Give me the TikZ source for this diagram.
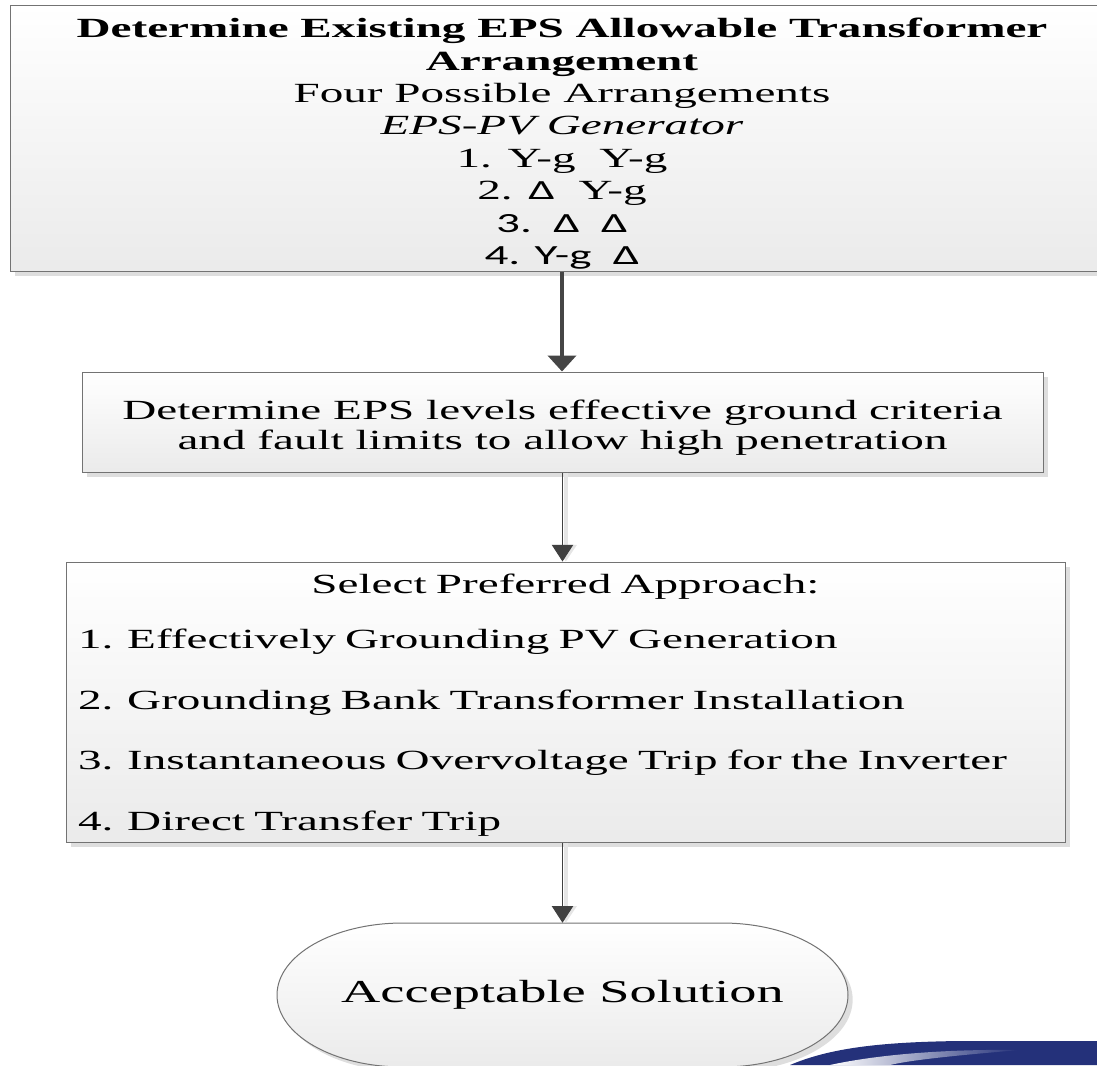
\documentclass[tikz,border=0pt]{standalone}
\usepackage{fontspec}
\setmainfont{Liberation Serif}[FakeStretch=1.7]
\newfontfamily\calfont{Carlito}[FakeStretch=1.7]
\usetikzlibrary{arrows.meta,shadows}
\definecolor{swooshblue}{HTML}{24317A}

\begin{document}
\begin{tikzpicture}[x=0.75pt, y=-0.75pt, >={Triangle[width=16pt, length=12.5pt]},
	box/.style={draw=black!55, line width=0.75pt, top color=white, bottom color=black!8, drop shadow={shadow xshift=3.5pt, shadow yshift=-3.5pt, fill=black!13, opacity=1}, align=center, inner sep=0pt},
	txt/.style={font=\fontsize{20.8}{24.3}\selectfont},
	link/.style={->, draw=black!75, line width=0.75pt},
	linkshade/.style={->, draw=black!10, line width=2.5pt}]
	\useasboundingbox (0,0) rectangle (1097,1065);
	\clip (0,0) rectangle (1097,1065);
	\node[box, txt, minimum width=828pt, minimum height=199.5pt] (arrange) at (562,138) {\rule{0pt}{23.3pt}\textbf{Determine Existing EPS Allowable Transformer}\\\textbf{Arrangement}\\Four Possible Arrangements\\\textit{EPS-PV Generator}\\1. Y-g\ \ Y-g\\2. {\calfont Δ}\ \ Y-g\\{\calfont 3.\ \ Δ\ \ Δ}\\{\calfont 4. Y-g\ \ Δ}};
	\node[box, font=\fontsize{20.8}{22}\selectfont, minimum width=720.75pt, minimum height=75pt] (det) at (562.5,422) {\rule{0pt}{23.3pt}Determine EPS levels effective ground criteria\\and fault limits to allow high penetration};
	\node[box, txt, align=left, text width=731.25pt, minimum width=749.25pt, minimum height=210pt] (approach) at (565.5,702) {\rule{0pt}{18.8pt}\makebox[\linewidth]{Select Preferred Approach:}\\[17.5pt]1. Effectively Grounding PV Generation\\[21pt]2. Grounding Bank Transformer Installation\\[21pt]3. Instantaneous Overvoltage Trip for the Inverter\\[21pt]4. Direct Transfer Trip};
	\fill[swooshblue] (790,1065) .. controls (830,1048) and (880,1042) .. (960,1041) -- (1097,1041) -- (1097,1065) -- cycle;
	\shade[left color=white, right color=swooshblue] (830,1065) .. controls (880,1054) and (950,1049) .. (1020,1050) .. controls (960,1055) and (910,1060) .. (890,1065) -- cycle;
	\draw[box] (403,923) -- (722,923) arc[start angle=90, end angle=-90, x radius=94.5pt, y radius=54pt] -- (403,1067) arc[start angle=270, end angle=90, x radius=94.5pt, y radius=54pt] -- cycle;
	\node[font=\fontsize{24}{28}\selectfont, minimum width=428.25pt, minimum height=108pt, inner sep=0pt] (accept) at (562.5,995) {Acceptable Solution};
	\draw[->, draw=black!73, line width=3pt, >={Triangle[width=21pt, length=12pt]}] (arrange.south) -- (arrange.south |- det.north);
	\draw[linkshade] ([xshift=2.5pt]det.south) -- ([xshift=2.5pt]det.south |- approach.north);
	\draw[link] (det.south) -- (det.south |- approach.north);
	\draw[linkshade] ([xshift=2.5pt]approach.south -| det.south) -- ([xshift=2.5pt]accept.north);
	\draw[link] (approach.south -| det.south) -- (accept.north);
\end{tikzpicture}
\end{document}
